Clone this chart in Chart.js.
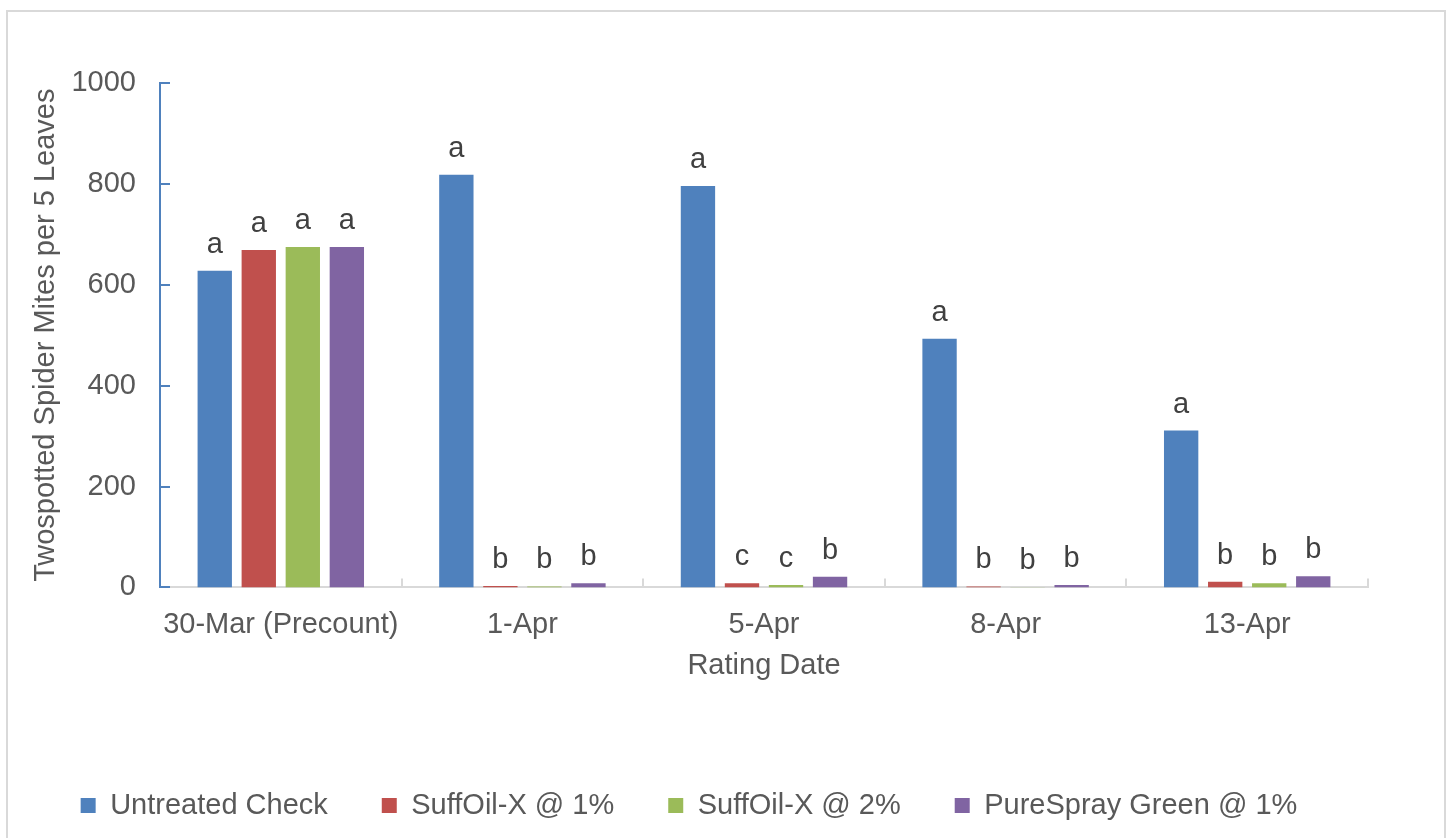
<html>
<head>
<title>Twospotted Spider Mites</title>
<style>
  html, body { margin: 0; padding: 0; overflow: hidden; background: #fff; }
  #frame { position: absolute; left: 6px; top: 10px; width: 1436px; height: 900px; border: 2px solid #d9d9d9; }
  #chart { position: absolute; left: 0; top: 0; }
</style>
</head>
<body>
<div id="frame"></div>
<canvas id="chart" width="1448" height="830"></canvas>
<script src="https://cdn.jsdelivr.net/npm/chart.js"></script>
<script>
var dates = ['30-Mar (Precount)', '1-Apr', '5-Apr', '8-Apr', '13-Apr'];
var untreated = [628, 818, 796, 493, 311];
var suffoil1 = [669, 3, 8, 2, 11];
var suffoil2 = [675, 2, 5, 0.5, 8];
var purespray = [675, 8, 21, 5, 22];
var lettersUntreated = ['a', 'a', 'a', 'a', 'a'];
var lettersSuff1 = ['a', 'b', 'c', 'b', 'b'];
var lettersSuff2 = ['a', 'b', 'c', 'b', 'b'];
var lettersPure = ['a', 'b', 'b', 'b', 'b'];
var yTicks = [0, 200, 400, 600, 800, 1000];

var textColor = '#595959';
var font = 'Liberation Sans, Arial, sans-serif';
var fs = 29;

// letters above bars + inside tick marks
var marks = {
    id: 'marks',
    afterDatasetsDraw: function(chart) {
        var ctx = chart.ctx;
        ctx.save();
        ctx.font = fs + 'px ' + font;
        ctx.fillStyle = '#404040';
        ctx.textAlign = 'center';
        ctx.textBaseline = 'alphabetic';
        chart.data.datasets.forEach(function(ds, i) {
            chart.getDatasetMeta(i).data.forEach(function(bar, j) {
                ctx.fillText(ds.letters[j], bar.x, bar.y - 18);
            });
        });
        ctx.restore();
    },
    afterDraw: function(chart) {
        var ctx = chart.ctx, x = chart.scales.x, y = chart.scales.y;
        ctx.save();
        ctx.lineWidth = 2;
        ctx.strokeStyle = '#4f81bd';
        yTicks.forEach(function(v) {
            var py = Math.round(y.getPixelForValue(v));
            ctx.beginPath();
            ctx.moveTo(x.left, py);
            ctx.lineTo(x.left + 10, py);
            ctx.stroke();
        });
        ctx.strokeStyle = '#d9d9d9';
        var w = (x.right - x.left) / dates.length;
        for (var i = 1; i <= dates.length; i++) {
            var px = Math.round(x.left + i * w);
            ctx.beginPath();
            ctx.moveTo(px, y.bottom);
            ctx.lineTo(px, y.bottom - 9);
            ctx.stroke();
        }
        ctx.restore();
    }
};

new Chart(document.getElementById('chart'), {
    type: 'bar',
    data: {
        labels: dates,
        datasets: [
            { label: 'Untreated Check', data: untreated, letters: lettersUntreated, backgroundColor: '#4f81bd' },
            { label: 'SuffOil-X @ 1%', data: suffoil1, letters: lettersSuff1, backgroundColor: '#c0504d' },
            { label: 'SuffOil-X @ 2%', data: suffoil2, letters: lettersSuff2, backgroundColor: '#9bbb59' },
            { label: 'PureSpray Green @ 1%', data: purespray, letters: lettersPure, backgroundColor: '#8064a2' }
        ]
    },
    options: {
        responsive: false,
        animation: false,
        events: [],
        categoryPercentage: 0.729,
        barPercentage: 0.78,
        layout: { padding: { left: 10, right: 80, top: 83, bottom: 0 } },
        scales: {
            x: {
                grid: { display: false, drawTicks: false },
                border: { display: true, color: '#d9d9d9', width: 2 },
                ticks: { color: textColor, font: { family: font, size: fs }, padding: 20, maxRotation: 0 },
                title: { display: true, text: 'Rating Date', color: textColor, font: { family: font, size: fs }, padding: { top: -14, bottom: 54 } }
            },
            y: {
                min: 0, max: 1000,
                grid: { display: false, drawTicks: false },
                border: { display: true, color: '#4f81bd', width: 2 },
                ticks: { stepSize: 200, color: textColor, font: { family: font, size: fs }, padding: 24,
                         callback: function(v) { return String(v); } },
                title: { display: true, text: 'Twospotted Spider Mites per 5 Leaves', color: textColor, font: { family: font, size: fs }, padding: { top: 19, bottom: 0 } },
                afterFit: function(s) { s.width = 150; }
            }
        },
        plugins: {
            legend: {
                position: 'bottom',
                labels: { color: textColor, font: { family: font, size: fs }, boxWidth: 15, boxHeight: 15, padding: 54 }
            },
            tooltip: { enabled: false }
        }
    },
    plugins: [marks]
});
</script>
</body>
</html>
